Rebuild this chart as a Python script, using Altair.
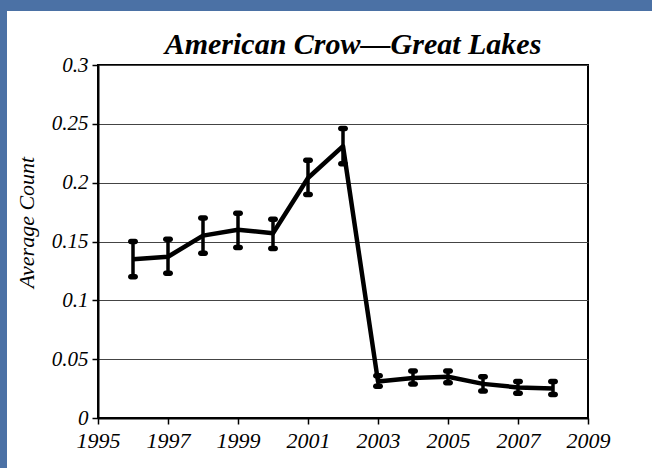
import altair as alt
import pandas as pd

years = [1996, 1997, 1998, 1999, 2000, 2001, 2002, 2003, 2004, 2005, 2006, 2007, 2008]
avg_count = [0.135, 0.137, 0.155, 0.160, 0.157, 0.204, 0.231, 0.031, 0.034, 0.035, 0.029, 0.026, 0.025]
err_low = [0.120, 0.123, 0.140, 0.145, 0.144, 0.190, 0.216, 0.027, 0.029, 0.030, 0.023, 0.021, 0.020]
err_high = [0.150, 0.152, 0.170, 0.174, 0.169, 0.219, 0.246, 0.036, 0.040, 0.040, 0.035, 0.031, 0.031]
x_ticks = [1995, 1997, 1999, 2001, 2003, 2005, 2007, 2009]
y_ticks = [0, 0.05, 0.1, 0.15, 0.2, 0.25, 0.3]

df = pd.DataFrame({"year": years, "avg": avg_count, "lo": err_low, "hi": err_high})

FONT = "Liberation Serif"
W, H = 490, 353
PAD_L, PAD_T = 98, 65
BLUE = "#4b71a5"

x_enc = alt.X("year:Q",
              scale=alt.Scale(domain=[1995, 2009], nice=False, zero=False),
              axis=alt.Axis(values=x_ticks, format="d", title=None, grid=False,
                            labelFont=FONT, labelFontStyle="italic", labelFontSize=22,
                            labelColor="black", labelPadding=6, tickColor="black",
                            tickSize=6, tickWidth=1.5, domainColor="black", domainWidth=2,
                            labelFlush=False))
y_scale = alt.Scale(domain=[0, 0.3], nice=False)
y_axis = alt.Axis(values=y_ticks, format="~f", title="Average Count", grid=True,
                  gridColor="#444444", gridWidth=1.2, labelFont=FONT,
                  labelFontStyle="italic", labelFontSize=21, labelColor="black",
                  labelPadding=4, tickColor="black", tickSize=6, tickWidth=1.5,
                  domainColor="black", domainWidth=2,
                  titleFont=FONT, titleFontStyle="italic", titleFontWeight="normal",
                  titleFontSize=22, titleColor="black", titleX=-65, titleY=157,
                  titleAngle=270, titleBaseline="alphabetic", labelFlush=False)

base = alt.Chart(df)

line = base.mark_line(color="black", strokeWidth=4.5, strokeJoin="round").encode(
    x=x_enc, y=alt.Y("avg:Q", scale=y_scale, axis=y_axis))

bars = base.mark_rule(color="black", strokeWidth=3.5).encode(
    x="year:Q", y="lo:Q", y2="hi:Q")

cap_lo = base.mark_tick(color="black", thickness=5.5, size=10, cornerRadius=2.75,
                        opacity=1, orient="horizontal").encode(x="year:Q", y="lo:Q")
cap_hi = base.mark_tick(color="black", thickness=5.5, size=10, cornerRadius=2.75,
                        opacity=1, orient="horizontal").encode(x="year:Q", y="hi:Q")

frame_left = base.mark_rect(color=BLUE, clip=False).encode(
    x=alt.value(-PAD_L), x2=alt.value(-PAD_L + 7),
    y=alt.value(-PAD_T), y2=alt.value(468 - PAD_T))
frame_top = base.mark_rect(color=BLUE, clip=False).encode(
    x=alt.value(-PAD_L), x2=alt.value(652 - PAD_L),
    y=alt.value(-PAD_T), y2=alt.value(-PAD_T + 11))

chart = alt.layer(frame_left, frame_top, line, bars, cap_lo, cap_hi).properties(
    width=W, height=H,
    title=alt.TitleParams("American Crow\u2014Great Lakes", font=FONT, fontSize=30,
                          fontStyle="italic", fontWeight="bold", color="black",
                          offset=0, dx=10, dy=84, baseline="alphabetic",
                          anchor="middle"),
    padding={"left": PAD_L, "top": PAD_T, "right": 652 - PAD_L - W, "bottom": 468 - PAD_T - H},
    autosize=alt.AutoSizeParams(type="none"),
    background="white",
).configure_view(stroke="black", strokeWidth=2)

chart.save("out.html", embed_options={"renderer": "svg", "actions": False})
